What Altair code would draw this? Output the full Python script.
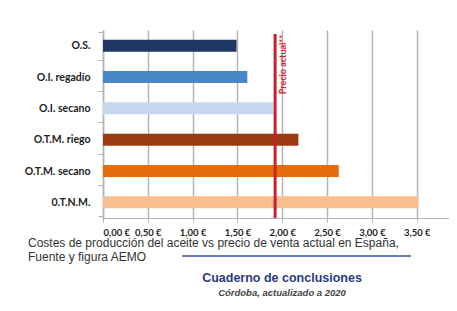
import altair as alt
import pandas as pd

categories = ["O.S.", "O.I. regadío", "O.I. secano", "O.T.M. riego", "O.T.M. secano", "0.T.N.M."]
costs = [1.49, 1.61, 1.90, 2.18, 2.63, 3.52]
colors = ["#1f3763", "#4a87c9", "#c6d9f1", "#9a3b12", "#e46c0a", "#f9bf90"]
price = [1.92]
price_label = ["Precio actual**"]
x_ticks = [0, 0.5, 1.0, 1.5, 2.0, 2.5, 3.0, 3.5]
caption_lines = ["Costes de producción del aceite vs precio de venta actual en España,",
                 "Fuente y figura AEMO"]
title_text = ["Cuaderno de conclusiones"]
subtitle_text = ["Córdoba, actualizado a 2020"]

bars_df = pd.DataFrame({"cat": categories, "cost": costs, "color": colors})
price_df = pd.DataFrame({"price": price, "label": price_label})

W, H = 346, 188

x_enc = alt.X(
    "cost:Q",
    scale=alt.Scale(domain=[0, 3.86], nice=False, zero=True),
    axis=alt.Axis(
        values=x_ticks,
        labelExpr="replace(format(datum.value, '.2f'), '.', ',') + ' €'",
        title=None,
        grid=True,
        gridColor="#b4b4b4",
        gridWidth=1.5,
        domainColor="#b4b4b4",
        domainWidth=1.2,
        tickColor="#b4b4b4",
        tickSize=4,
        labelFont="Lato",
        labelFontWeight="bold",
        labelFontSize=9.5,
        labelColor="#222222",
        labelPadding=5,
        labelOverlap=False,
    ),
)

bars = alt.Chart(bars_df).mark_bar(size=12).encode(
    x=x_enc,
    y=alt.Y(
        "cat:N",
        sort=categories,
        axis=alt.Axis(
            title=None,
            tickBand="extent",
            grid=False,
            domainColor="#b4b4b4",
            domainWidth=1.5,
            tickColor="#b4b4b4",
            tickSize=5,
            labelFont="Lato",
            labelFontWeight="bold",
            labelFontSize=10.5,
            labelColor="#222222",
            labelPadding=8,
        ),
    ),
    color=alt.Color("color:N", scale=None, legend=None),
)

rule = alt.Chart(price_df).mark_rule(color="#c8202e", strokeWidth=3).encode(
    x="price:Q", y=alt.value(4), y2=alt.value(H)
)

rule_text = alt.Chart(price_df).mark_text(
    angle=270, align="right", baseline="middle", color="#d0202e",
    font="Lato", fontWeight="bold", fontSize=9, xOffset=8,
).encode(x="price:Q", y=alt.value(5), text="label:N")


def txt(s, x, y, **kw):
    return alt.Chart(pd.DataFrame({"t": [s]})).mark_text(**kw).encode(
        x=alt.value(x), y=alt.value(y), text="t:N"
    )


cap1 = txt(caption_lines[0], -75, 213, align="left", baseline="middle",
           font="Liberation Sans", fontSize=12, color="#333333")
cap2 = txt(caption_lines[1], -75, 227, align="left", baseline="middle",
           font="Liberation Sans", fontSize=12, color="#333333")
title = txt(title_text[0], 179, 248, align="center", baseline="middle",
            font="Liberation Sans", fontSize=12.5, fontWeight="bold", color="#2b3a7e")
subtitle = txt(subtitle_text[0], 179, 263, align="center", baseline="middle",
               font="Liberation Sans", fontSize=9.5, fontWeight="bold",
               fontStyle="italic", color="#444444")

blue_line = alt.Chart(pd.DataFrame({"a": [0]})).mark_rule(
    color="#3a4ea0", strokeWidth=1.5
).encode(x=alt.value(79), x2=alt.value(308), y=alt.value(226))

chart = alt.layer(
    bars, rule, rule_text, cap1, cap2, blue_line, title, subtitle
).properties(
    width=W, height=H,
    autosize=alt.AutoSizeParams(type="none"),
    padding={"left": 95, "top": 22, "right": 0, "bottom": 85},
    background="white",
).configure_view(stroke=None)

chart.save("out.html", embed_options={"renderer": "svg", "actions": False})
